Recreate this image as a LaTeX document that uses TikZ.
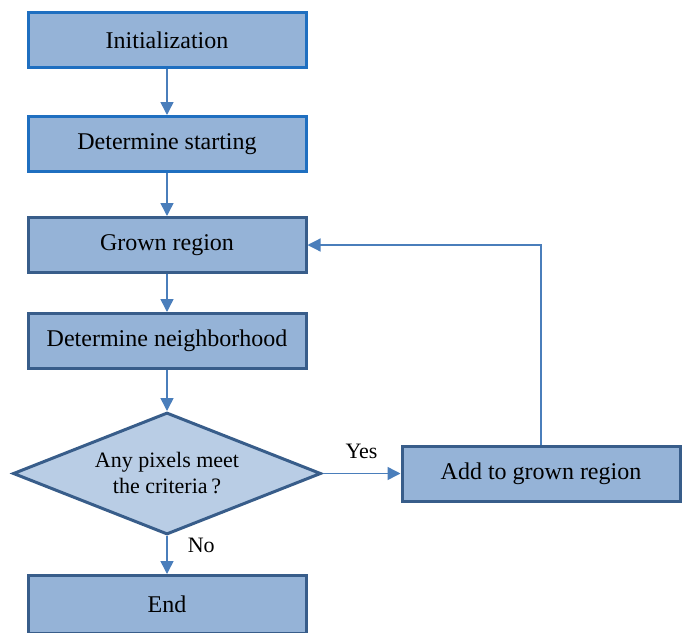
\documentclass[tikz,border=0pt]{standalone}
\usepackage{fontspec}
\setmainfont{Liberation Serif}
\usepackage{xcolor}
\usepackage{tikz}
\usetikzlibrary{shapes.geometric, arrows.meta, positioning}

\definecolor{boxfill}{HTML}{95B3D7}
\definecolor{diafill}{HTML}{B9CDE5}
\definecolor{brightline}{HTML}{1F6FC0}
\definecolor{darkline}{HTML}{385D8A}
\definecolor{arrowline}{HTML}{4A7EBB}

\tikzset{
  box/.style={rectangle, draw=darkline, line width=1.5pt, fill=boxfill,
    minimum width=139pt, minimum height=27.5pt, inner sep=2pt,
    font=\fontsize{12}{14}\selectfont},
  brightbox/.style={box, draw=brightline},
  decision/.style={diamond, draw=darkline, line width=1.5pt, fill=diafill,
    aspect=2.5, inner sep=0pt, minimum width=154pt, minimum height=61pt,
    align=center, font=\fontsize{11}{13}\selectfont},
  flow/.style={color=arrowline, line width=0.75pt,
    -{Triangle[length=6.5pt,width=6.5pt]}},
  lbl/.style={text=black, font=\fontsize{11}{13}\selectfont, inner sep=2pt}
}

\begin{document}
\begin{tikzpicture}

        \useasboundingbox (0,0) rectangle (342.5pt,-316pt);

        \node[brightbox] (init) at (83.5pt,-20pt) {Initialization};
        \node[brightbox] (start) [below=23pt of init] {Determine starting};
        \node[box] (grown) [below=21.5pt of start] {Grown region};
        \node[box] (neigh) [below=19pt of grown] {Determine neighborhood};
        \node[decision] (check) [below=20.5pt of neigh] {Any pixels meet\\the criteria\,?};
        \node[box, minimum height=29pt] (finish) [below=19pt of check] {End};
        \node[box] (add) [right=39pt of check] {Add to grown region};

        \draw[flow] (init) -- (start);
        \draw[flow] (start) -- (grown);
        \draw[flow] (grown) -- (neigh);
        \draw[flow] (neigh) -- (check);
        \draw[flow] (check) -- node[lbl, above=5pt] {Yes} (add);
        \draw[flow] (check) -- node[lbl, right=8pt, pos=0.25] {No} (finish);
        \draw[flow, line width=0.6pt] (add.north) |- (grown.east);

    \end{tikzpicture}
\end{document}
